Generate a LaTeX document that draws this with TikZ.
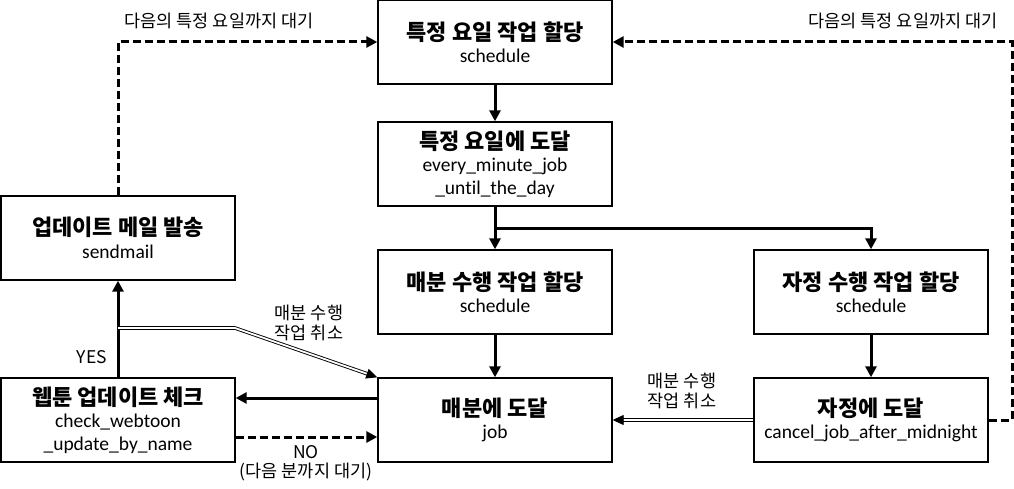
\documentclass[tikz,border=0pt]{standalone}
\usepackage{fontspec}
\setmainfont{Noto Sans CJK KR}
\newfontfamily\codefont{Carlito}[Ligatures={NoCommon}]
\usetikzlibrary{arrows.meta}

\newcommand{\titletext}[1]{{\fontsize{22}{24}\selectfont\bfseries #1}}
\newcommand{\codetext}[1]{{\codefont\fontsize{19.5}{23}\selectfont #1}}

\tikzset{
  stepbox/.style={draw, line width=1.4pt, minimum width=234pt, minimum height=84pt,
    align=center, inner sep=0pt, font=\fontsize{19}{22.5}\selectfont},
  flow/.style={line width=3pt, -{Triangle[length=11pt,width=11pt]}},
  wait/.style={flow, dash pattern=on 8pt off 4pt},
  cancel/.style={double, double distance=1.8pt, line width=0.9pt,
    -{Triangle[length=11pt,width=10pt]}},
  note/.style={font=\fontsize{17.5}{19.5}\selectfont, align=center, inner sep=0pt}
}

\begin{document}
\begin{tikzpicture}[x=1pt, y=-1pt]
    \useasboundingbox (0, 0) rectangle (1014, 489);

    % Draw the scheduling boxes
    \node[stepbox] (sched) at (495, 42) {\titletext{특정 요일 작업 할당}\\\codetext{schedule}};
    \node[stepbox] (reach) at (495, 164) {\titletext{특정 요일에 도달}\\\codetext{every\_minute\_job}\\\codetext{\_until\_the\_day}};
    \node[stepbox] (msched) at (495, 292) {\titletext{매분 수행 작업 할당}\\\codetext{schedule}};
    \node[stepbox] (mjob) at (495, 420) {\titletext{매분에 도달}\\\codetext{job}};
    \node[stepbox] (nsched) at (871, 292) {\titletext{자정 수행 작업 할당}\\\codetext{schedule}};
    \node[stepbox] (njob) at (871, 420) {\titletext{자정에 도달}\\\codetext{cancel\_job\_after\_midnight}};
    \node[stepbox] (mail) at (118, 238) {\titletext{업데이트 메일 발송}\\\codetext{sendmail}};
    \node[stepbox] (check) at (118, 420) {\titletext{웹툰 업데이트 체크}\\\codetext{check\_webtoon}\\\codetext{\_update\_by\_name}};

    % Helper points for the bends
    \coordinate (split) at (495, 228);
    \coordinate (tap) at (118, 328);
    \coordinate (bend) at (235, 328);
    \coordinate (turn) at (1012, 420);

    % Solid flow
    \draw[flow] (sched) -- (reach);
    \draw[flow] (reach) -- (msched);
    \draw[flow] (split) -| (nsched);
    \draw[flow] (msched) -- (mjob);
    \draw[flow] (nsched) -- (njob);
    \draw[flow] ([yshift=22pt]mjob.west) -- ([yshift=22pt]check.east);
    \draw[flow] (check) -- (mail);
    \node[note] (yes) at (92, 357) {YES};

    % Waiting (dashed)
    \draw[wait] ([yshift=-17pt]check.east) -- ([yshift=-17pt]mjob.west);
    \node[note] (no) at (306, 463) {NO\\(다음 분까지 대기)};
    \draw[wait] (mail.north) |- (sched.west);
    \node[note] (waitl) at (219, 21) {다음의 특정 요일까지 대기};
    \draw[wait] (njob.east) -- (turn) |- (sched.east);
    \node[note] (waitr) at (903, 21) {다음의 특정 요일까지 대기};

    % Cancel the every-minute job
    \draw[cancel] (njob) -- (mjob);
    \node[note] (cancelr) at (682, 391) {매분 수행\\작업 취소};
    \draw[cancel] (tap) -- (bend) -- (mjob.north west);
    \node[note] (cancell) at (309, 323) {매분 수행\\작업 취소};
\end{tikzpicture}
\end{document}
